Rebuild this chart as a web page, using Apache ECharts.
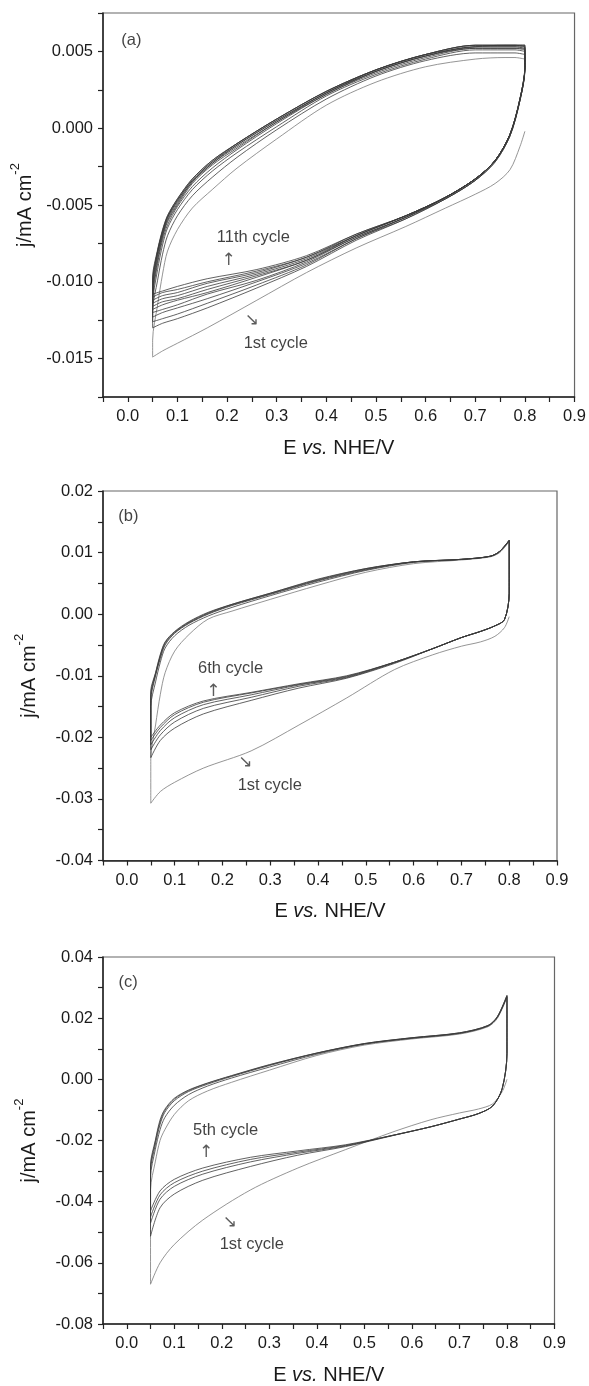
<!DOCTYPE html>
<html>
<head>
<meta charset="utf-8">
<script src="https://cdn.jsdelivr.net/npm/echarts@6/dist/echarts.min.js"></script>
<style>
html,body{margin:0;padding:0;background:#fff;}
#chart{width:589px;height:1386px;}
</style>
</head>
<body>
<div id="chart"></div>
<script>
// ---- shared potential grids (V vs NHE) ----
const xCath = [0.8, 0.8, 0.79, 0.77, 0.74, 0.7, 0.64, 0.56, 0.46, 0.36, 0.26, 0.16, 0.1, 0.07, 0.05];
const xAnod = [0.05, 0.05, 0.06, 0.07, 0.08, 0.1, 0.13, 0.17, 0.22, 0.3, 0.4, 0.5, 0.6, 0.7, 0.76, 0.78, 0.8];

// ---- panel (a): 11 cycles ----
const a1Cath  = [-0.0002, -0.0002, -0.0012, -0.0027, -0.0036, -0.0043, -0.0052, -0.0064, -0.0078, -0.0094, -0.0112, -0.0130, -0.0140, -0.0145, -0.0149];
const a2Cath  = [0.0046, 0.0038, 0.0018, -0.0005, -0.0022, -0.0034, -0.0046, -0.0059, -0.0073, -0.0090, -0.0104, -0.0117, -0.0124, -0.0127, -0.0130];
const a3Cath  = [0.0049, 0.0038, 0.0018, -0.0005, -0.0022, -0.0034, -0.0046, -0.0059, -0.0072, -0.0089, -0.0102, -0.0114, -0.0121, -0.0124, -0.0126];
const a4Cath  = [0.0050, 0.0039, 0.0018, -0.0005, -0.0021, -0.0034, -0.0046, -0.0058, -0.0072, -0.0088, -0.0100, -0.0111, -0.0117, -0.0120, -0.0123];
const a5Cath  = [0.0051, 0.0039, 0.0018, -0.0004, -0.0021, -0.0033, -0.0045, -0.0058, -0.0071, -0.0087, -0.0099, -0.0108, -0.0115, -0.0118, -0.0120];
const a6Cath  = [0.0052, 0.0039, 0.0019, -0.0004, -0.0021, -0.0033, -0.0045, -0.0058, -0.0071, -0.0086, -0.0097, -0.0107, -0.0112, -0.0115, -0.0118];
const a7Cath  = [0.0052, 0.0040, 0.0019, -0.0004, -0.0021, -0.0033, -0.0045, -0.0057, -0.0070, -0.0086, -0.0096, -0.0105, -0.0111, -0.0113, -0.0116];
const a8Cath  = [0.0053, 0.0040, 0.0019, -0.0004, -0.0021, -0.0033, -0.0045, -0.0057, -0.0070, -0.0085, -0.0095, -0.0103, -0.0109, -0.0111, -0.0114];
const a9Cath  = [0.0053, 0.0040, 0.0019, -0.0004, -0.0021, -0.0033, -0.0045, -0.0057, -0.0070, -0.0084, -0.0094, -0.0101, -0.0107, -0.0109, -0.0112];
const a10Cath = [0.0054, 0.0040, 0.0019, -0.0004, -0.0021, -0.0033, -0.0045, -0.0057, -0.0069, -0.0084, -0.0093, -0.0100, -0.0105, -0.0107, -0.0110];
const a11Cath = [0.0054, 0.0040, 0.0019, -0.0004, -0.0021, -0.0033, -0.0045, -0.0057, -0.0069, -0.0083, -0.0092, -0.0098, -0.0103, -0.0106, -0.0108];

const a1Anod  = [-0.0149, -0.0138, -0.0115, -0.0095, -0.0080, -0.0066, -0.0052, -0.0040, -0.0026, -0.0007, 0.0015, 0.0030, 0.0040, 0.0045, 0.0046, 0.0046, 0.0045];
const a2Anod  = [-0.0130, -0.0119, -0.0099, -0.0082, -0.0070, -0.0057, -0.0044, -0.0032, -0.0019, -0.0001, 0.0019, 0.0034, 0.0044, 0.0049, 0.0049, 0.0049, 0.0048];
const a3Anod  = [-0.0126, -0.0115, -0.0092, -0.0076, -0.0065, -0.0053, -0.0040, -0.0028, -0.0016, 0.0001, 0.0021, 0.0035, 0.0045, 0.0051, 0.0051, 0.0051, 0.0050];
const a4Anod  = [-0.0123, -0.0112, -0.0088, -0.0073, -0.0063, -0.0051, -0.0038, -0.0026, -0.0014, 0.0003, 0.0022, 0.0036, 0.0046, 0.0052, 0.0052, 0.0052, 0.0051];
const a5Anod  = [-0.0120, -0.0109, -0.0086, -0.0071, -0.0061, -0.0050, -0.0036, -0.0024, -0.0013, 0.0004, 0.0022, 0.0037, 0.0047, 0.0052, 0.0052, 0.0052, 0.0052];
const a6Anod  = [-0.0118, -0.0107, -0.0084, -0.0070, -0.0060, -0.0049, -0.0035, -0.0023, -0.0012, 0.0004, 0.0023, 0.0037, 0.0047, 0.0053, 0.0053, 0.0053, 0.0052];
const a7Anod  = [-0.0116, -0.0105, -0.0082, -0.0069, -0.0059, -0.0048, -0.0035, -0.0023, -0.0011, 0.0005, 0.0023, 0.0037, 0.0047, 0.0053, 0.0053, 0.0053, 0.0053];
const a8Anod  = [-0.0114, -0.0103, -0.0081, -0.0068, -0.0058, -0.0047, -0.0034, -0.0022, -0.0011, 0.0005, 0.0023, 0.0038, 0.0048, 0.0053, 0.0054, 0.0054, 0.0053];
const a9Anod  = [-0.0112, -0.0101, -0.0080, -0.0067, -0.0058, -0.0047, -0.0034, -0.0022, -0.0010, 0.0006, 0.0024, 0.0038, 0.0048, 0.0054, 0.0054, 0.0054, 0.0054];
const a10Anod = [-0.0110, -0.0099, -0.0080, -0.0067, -0.0057, -0.0046, -0.0033, -0.0021, -0.0010, 0.0006, 0.0024, 0.0038, 0.0048, 0.0054, 0.0054, 0.0054, 0.0054];
const a11Anod = [-0.0108, -0.0097, -0.0079, -0.0066, -0.0057, -0.0046, -0.0033, -0.0021, -0.0010, 0.0006, 0.0024, 0.0038, 0.0048, 0.0054, 0.0054, 0.0054, 0.0054];

// ---- panel (b): 6 cycles ----
const b1Cath = [-0.0004, -0.0004, -0.0022, -0.0036, -0.0045, -0.0052, -0.0066, -0.0090, -0.0136, -0.0180, -0.0222, -0.0250, -0.0273, -0.0288, -0.0307];
const b2Cath = [0.0118, 0.0034, -0.0009, -0.0019, -0.0028, -0.0038, -0.0056, -0.0080, -0.0104, -0.0120, -0.0140, -0.0162, -0.0185, -0.0205, -0.0233];
const b3Cath = [0.0119, 0.0034, -0.0009, -0.0019, -0.0028, -0.0038, -0.0056, -0.0079, -0.0103, -0.0117, -0.0135, -0.0153, -0.0175, -0.0196, -0.0220];
const b4Cath = [0.0120, 0.0034, -0.0009, -0.0019, -0.0028, -0.0038, -0.0056, -0.0078, -0.0102, -0.0115, -0.0131, -0.0147, -0.0168, -0.0189, -0.0212];
const b5Cath = [0.0120, 0.0034, -0.0009, -0.0019, -0.0028, -0.0038, -0.0056, -0.0078, -0.0101, -0.0114, -0.0128, -0.0143, -0.0163, -0.0184, -0.0205];
const b6Cath = [0.0120, 0.0034, -0.0009, -0.0019, -0.0028, -0.0038, -0.0056, -0.0078, -0.0100, -0.0113, -0.0127, -0.0141, -0.0160, -0.0180, -0.0200];

const b1Anod = [-0.0307, -0.0235, -0.0180, -0.0130, -0.0095, -0.0060, -0.0033, -0.0008, 0.0005, 0.0024, 0.0047, 0.0068, 0.0082, 0.0088, 0.0093, 0.0100, 0.0118];
const b2Anod = [-0.0233, -0.0150, -0.0110, -0.0078, -0.0055, -0.0035, -0.0018, -0.0003, 0.0011, 0.0030, 0.0052, 0.0071, 0.0084, 0.0089, 0.0094, 0.0101, 0.0119];
const b3Anod = [-0.0220, -0.0140, -0.0100, -0.0072, -0.0050, -0.0031, -0.0015, 0.0000, 0.0014, 0.0032, 0.0054, 0.0072, 0.0085, 0.0089, 0.0094, 0.0102, 0.0120];
const b4Anod = [-0.0212, -0.0135, -0.0098, -0.0069, -0.0048, -0.0030, -0.0014, 0.0001, 0.0015, 0.0033, 0.0055, 0.0073, 0.0085, 0.0089, 0.0094, 0.0102, 0.0120];
const b5Anod = [-0.0205, -0.0130, -0.0096, -0.0067, -0.0046, -0.0029, -0.0013, 0.0002, 0.0016, 0.0034, 0.0056, 0.0074, 0.0085, 0.0089, 0.0094, 0.0102, 0.0120];
const b6Anod = [-0.0200, -0.0125, -0.0095, -0.0065, -0.0045, -0.0028, -0.0012, 0.0003, 0.0016, 0.0034, 0.0057, 0.0074, 0.0085, 0.0089, 0.0094, 0.0102, 0.0120];

// ---- panel (c): 5 cycles ----
const c1Cath = [0.0000, 0.0000, -0.0040, -0.0080, -0.0097, -0.0110, -0.0132, -0.0172, -0.0230, -0.0290, -0.0362, -0.0460, -0.0540, -0.0600, -0.0670];
const c2Cath = [0.0268, 0.0085, -0.0030, -0.0087, -0.0112, -0.0130, -0.0155, -0.0184, -0.0220, -0.0248, -0.0285, -0.0330, -0.0375, -0.0420, -0.0513];
const c3Cath = [0.0270, 0.0085, -0.0030, -0.0087, -0.0112, -0.0130, -0.0155, -0.0183, -0.0218, -0.0242, -0.0270, -0.0310, -0.0350, -0.0392, -0.0470];
const c4Cath = [0.0272, 0.0085, -0.0030, -0.0087, -0.0112, -0.0130, -0.0155, -0.0183, -0.0216, -0.0238, -0.0262, -0.0300, -0.0338, -0.0378, -0.0450];
const c5Cath = [0.0274, 0.0085, -0.0030, -0.0087, -0.0112, -0.0130, -0.0155, -0.0183, -0.0214, -0.0234, -0.0255, -0.0290, -0.0327, -0.0365, -0.0430];

const c1Anod = [-0.0670, -0.0360, -0.0270, -0.0200, -0.0165, -0.0115, -0.0070, -0.0038, -0.0010, 0.0030, 0.0078, 0.0112, 0.0132, 0.0148, 0.0172, 0.0200, 0.0268];
const c2Anod = [-0.0513, -0.0320, -0.0230, -0.0165, -0.0125, -0.0085, -0.0050, -0.0022, 0.0004, 0.0040, 0.0082, 0.0115, 0.0134, 0.0150, 0.0174, 0.0203, 0.0270];
const c3Anod = [-0.0470, -0.0300, -0.0215, -0.0148, -0.0108, -0.0070, -0.0040, -0.0016, 0.0009, 0.0045, 0.0085, 0.0116, 0.0135, 0.0151, 0.0175, 0.0204, 0.0272];
const c4Anod = [-0.0450, -0.0290, -0.0205, -0.0140, -0.0102, -0.0065, -0.0037, -0.0013, 0.0011, 0.0047, 0.0086, 0.0117, 0.0136, 0.0152, 0.0176, 0.0205, 0.0274];
const c5Anod = [-0.0430, -0.0280, -0.0200, -0.0133, -0.0098, -0.0062, -0.0035, -0.0012, 0.0012, 0.0048, 0.0086, 0.0117, 0.0136, 0.0152, 0.0176, 0.0206, 0.0275];

// ---- text annotations: [E, j, text] ----
const notesA = [[0.007, 0.0057, '(a)'], [0.253, -0.0071, '11th cycle'], [0.203, -0.0086, '↑'], [0.298, -0.0140, '1st cycle'], [0.250, -0.0125, '↘']];
const notesB = [[0.003, 0.0159, '(b)'], [0.217, -0.0088, '6th cycle'], [0.181, -0.0126, '↑'], [0.299, -0.0278, '1st cycle'], [0.248, -0.0241, '↘']];
const notesC = [[0.003, 0.0318, '(c)'], [0.208, -0.0168, '5th cycle'], [0.167, -0.0239, '↑'], [0.263, -0.0541, '1st cycle'], [0.217, -0.0469, '↘']];

// ---- axis ranges ----
const yRanges = [
  {min: -0.0175, max: 0.0075, interval: 0.0025, dec: 3},
  {min: -0.04, max: 0.02, interval: 0.005, dec: 2},
  {min: -0.08, max: 0.04, interval: 0.01, dec: 2}
];

const FONT = 'Liberation Sans, Arial, Helvetica, sans-serif';

function loop(cath, anod) {
  return cath.map((j, i) => [xCath[i], j]).concat(anod.slice(1).map((j, i) => [xAnod[i + 1], j]));
}

const panels = [
  {cycles: [[a1Cath, a1Anod], [a2Cath, a2Anod], [a3Cath, a3Anod], [a4Cath, a4Anod], [a5Cath, a5Anod], [a6Cath, a6Anod], [a7Cath, a7Anod], [a8Cath, a8Anod], [a9Cath, a9Anod], [a10Cath, a10Anod], [a11Cath, a11Anod]], notes: notesA},
  {cycles: [[b1Cath, b1Anod], [b2Cath, b2Anod], [b3Cath, b3Anod], [b4Cath, b4Anod], [b5Cath, b5Anod], [b6Cath, b6Anod]], notes: notesB},
  {cycles: [[c1Cath, c1Anod], [c2Cath, c2Anod], [c3Cath, c3Anod], [c4Cath, c4Anod], [c5Cath, c5Anod]], notes: notesC}
];

const grids = [
  {left: 103, top: 13, width: 474.5, height: 384},
  {left: 103, top: 491, width: 454, height: 369.5},
  {left: 103, top: 957, width: 451.5, height: 368.5}
];

const option = {
  animation: false,
  backgroundColor: '#fff',
  textStyle: {fontFamily: FONT},
  grid: grids.map(g => Object.assign({show: true, borderColor: '#666', borderWidth: 1.2, containLabel: false}, g)),
  xAxis: grids.map((g, k) => ({
    type: 'value', gridIndex: k, min: -0.05, max: 0.9, interval: 0.05,
    axisLine: {show: true, onZero: false, lineStyle: {color: '#222', width: 1.5}},
    axisTick: {show: true, inside: false, length: 5, lineStyle: {color: '#222', width: 1.2}},
    axisLabel: {
      fontSize: 16.5, color: '#1a1a1a', margin: 11, fontFamily: FONT,
      formatter: v => (Math.round(v * 20) % 2 === 0 ? (Math.round(v * 10) / 10).toFixed(1) : '')
    },
    splitLine: {show: false},
    name: 'E {i|vs.} NHE/V', nameLocation: 'middle', nameGap: 41,
    nameTextStyle: {fontSize: 20, color: '#1a1a1a', fontFamily: FONT, rich: {i: {fontSize: 20, fontStyle: 'italic', color: '#1a1a1a', fontFamily: FONT}}}
  })),
  yAxis: yRanges.map((r, k) => ({
    type: 'value', gridIndex: k, min: r.min, max: r.max, interval: r.interval,
    axisLine: {show: true, onZero: false, lineStyle: {color: '#222', width: 1.5}},
    axisTick: {show: true, inside: false, length: 5, lineStyle: {color: '#222', width: 1.2}},
    axisLabel: {
      fontSize: 16.5, color: '#1a1a1a', margin: 10, fontFamily: FONT,
      formatter: v => (Math.round(v / r.interval) % 2 === 0 ? (Math.abs(v) < 1e-9 ? 0 : v).toFixed(r.dec) : '')
    },
    splitLine: {show: false},
    name: '{m|j/mA cm}{s|-2}', nameLocation: 'middle', nameGap: 64, nameRotate: 90,
    nameTextStyle: {
      rich: {
        m: {fontSize: 20, color: '#1a1a1a', fontFamily: FONT, verticalAlign: 'bottom', lineHeight: 26},
        s: {fontSize: 13, color: '#1a1a1a', fontFamily: FONT, verticalAlign: 'top', lineHeight: 26}
      }
    }
  })),
  series: []
};

panels.forEach((p, k) => {
  p.cycles.forEach((c, idx) => {
    option.series.push({
      type: 'line', xAxisIndex: k, yAxisIndex: k,
      data: loop(c[0], c[1]),
      showSymbol: false, symbol: 'none', silent: true,
      smooth: 0.3,
      lineStyle: {width: 0.8, color: idx === 0 ? '#7a7a7a' : '#3a3a3a'},
      z: idx === 0 ? 2 : 3
    });
  });
  option.series.push({
    type: 'scatter', xAxisIndex: k, yAxisIndex: k, silent: true,
    symbolSize: 0,
    data: p.notes.map(n => ({value: [n[0], n[1]], name: n[2]})),
    label: {
      show: true, position: 'inside', color: '#111', fontSize: 16.5, fontFamily: FONT,
      formatter: d => d.name
    },
    z: 5
  });
});

// arrows drawn as thin glyphs
option.series.forEach(s => {
  if (s.type === 'scatter') {
    s.data.forEach(d => {
      if (d.name === '↑' || d.name === '↘') {
        d.label = {fontFamily: 'DejaVu Sans', fontSize: 17, color: '#333'};
      }
    });
  }
});

const chart = echarts.init(document.getElementById('chart'), null, {renderer: 'canvas'});
chart.setOption(option);
</script>
</body>
</html>
